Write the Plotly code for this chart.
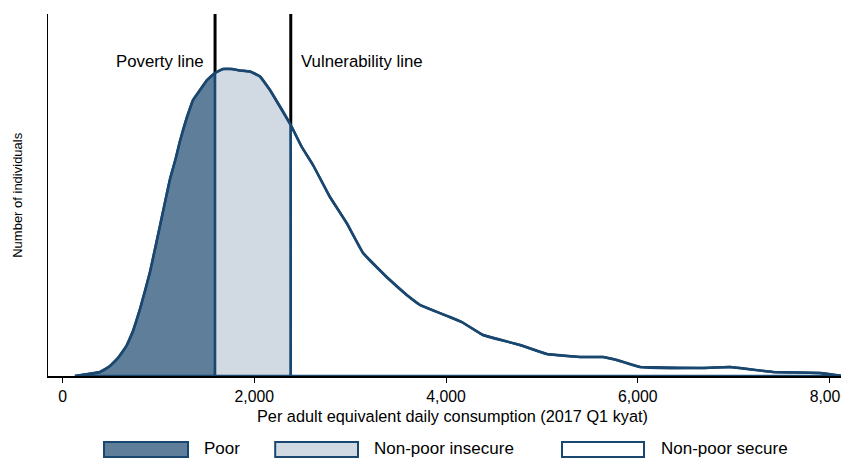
import plotly.graph_objects as go

# ---- data ----
consumption = [128, 319, 389, 494, 577, 665, 734, 807, 911, 1015, 1120, 1178, 1224, 1294, 1360,
               1433, 1506, 1590, 1673, 1766, 1850, 1954, 2059, 2163, 2268, 2380, 2495,
               2612, 2789, 2963, 3134, 3380, 3590, 3728, 4041, 4164, 4386, 4772, 5051,
               5398, 5638, 5781, 6024, 6682, 6963, 7412, 7902, 8142]
density = [0.00, 0.025, 0.04, 0.10, 0.18, 0.30, 0.45, 0.67, 1.04, 1.50, 1.97, 2.17, 2.35, 2.58,
           2.76, 2.86, 2.96, 3.03, 3.07, 3.07, 3.055, 3.045, 2.995, 2.86, 2.695, 2.51,
           2.29, 2.11, 1.79, 1.53, 1.23, 0.99, 0.81, 0.71, 0.59, 0.54, 0.41, 0.31, 0.22,
           0.19, 0.19, 0.16, 0.09, 0.08, 0.09, 0.04, 0.03, 0.00]
poverty_line = 1590
vulnerability_line = 2380
group_labels = ["Poor", "Non-poor insecure", "Non-poor secure"]
x_ticks = [0, 2000, 4000, 6000, 8000]
x_tick_text = ["0", "2,000", "4,000", "6,000", "8,000"]

NAVY = "#1a476f"
FILLS = ["#5f7e9a", "#d1dae2", "#ffffff"]
FONT = "Liberation Sans, Arial, Helvetica, sans-serif"
Y_TOP = 3.62

fig = go.Figure()

i_pov = consumption.index(poverty_line)
i_vul = consumption.index(vulnerability_line)

# threshold lines (black), from curve to top
for xv, idx in [(poverty_line, i_pov), (vulnerability_line, i_vul)]:
    fig.add_trace(go.Scatter(x=[xv, xv], y=[density[idx], Y_TOP], mode="lines",
                             line=dict(color="black", width=3), showlegend=False,
                             hoverinfo="skip"))

segments = [(0, i_pov), (i_pov, i_vul), (i_vul, len(consumption) - 1)]
for (a, b), fc, name in zip(segments, FILLS, group_labels):
    xs = consumption[a:b + 1]
    ys = density[a:b + 1]
    px = xs + [xs[-1], xs[0], xs[0]]
    py = ys + [0, 0, ys[0]]
    fig.add_trace(go.Scatter(x=px, y=py, mode="lines", fill="toself", fillcolor=fc,
                             line=dict(color=NAVY, width=2.5),
                             name=name, showlegend=False))

# smooth outline of the density curve on top
fig.add_trace(go.Scatter(x=consumption, y=density, mode="lines",
                         line=dict(color=NAVY, width=2.5, shape="spline", smoothing=0.5),
                         showlegend=False, hoverinfo="skip"))

# threshold labels
fig.add_annotation(x=poverty_line - 95, y=3.15, text="Poverty line", showarrow=False,
                   xanchor="right", yanchor="middle", font=dict(size=16.8, color="black", family=FONT))
fig.add_annotation(x=vulnerability_line + 85, y=3.15, text="Vulnerability line", showarrow=False,
                   xanchor="left", yanchor="middle", font=dict(size=16.8, color="black", family=FONT))

# axis titles
fig.add_annotation(xref="paper", yref="paper", x=0.506, y=-0.1105, text="Per adult equivalent daily consumption (2017 Q1 kyat)",
                   showarrow=False, xanchor="center", yanchor="middle",
                   font=dict(size=16.3, color="black", family=FONT))
fig.add_annotation(xref="paper", yref="paper", x=-0.039, y=0.5, text="Number of individuals",
                   textangle=-90, showarrow=False, xanchor="center", yanchor="middle",
                   font=dict(size=13, color="black", family=FONT))

# custom legend (large boxes as in the reference)
legend_boxes = [(0.070, 0.175, 0.193), (0.284, 0.3875, 0.405), (0.6425, 0.745, 0.764)]
for (x0, x1, xt), fc, name in zip(legend_boxes, FILLS, group_labels):
    fig.add_shape(type="rect", xref="paper", yref="paper", x0=x0, x1=x1, y0=-0.2238, y1=-0.1823,
                  fillcolor=fc, line=dict(color=NAVY, width=2))
    fig.add_annotation(xref="paper", yref="paper", x=xt, y=-0.200, text=name, showarrow=False,
                       xanchor="left", yanchor="middle",
                       font=dict(size=17, color="black", family=FONT))

# page body has an 8px margin: shrink the figure so the plot sits where the reference's does
fig.update_layout(
    width=841, height=450,
    margin=dict(l=40, r=1, t=6, b=82),
    plot_bgcolor="white", paper_bgcolor="white",
    font=dict(family=FONT, color="black"),
    showlegend=False,
)
fig.update_xaxes(range=[-153, 8194], tickvals=x_ticks, ticktext=x_tick_text,
                 ticks="outside", ticklen=5, tickwidth=1, tickcolor="black",
                 ticklabeloverflow="allow",
                 showline=True, linecolor="black", linewidth=1.5, showgrid=False,
                 zeroline=False, tickfont=dict(size=15.8, color="black", family=FONT))
fig.update_yaxes(range=[0, Y_TOP], showline=True, linecolor="black", linewidth=1,
                 showticklabels=False, ticks="", showgrid=False, zeroline=False)

fig.write_html("out.html")
